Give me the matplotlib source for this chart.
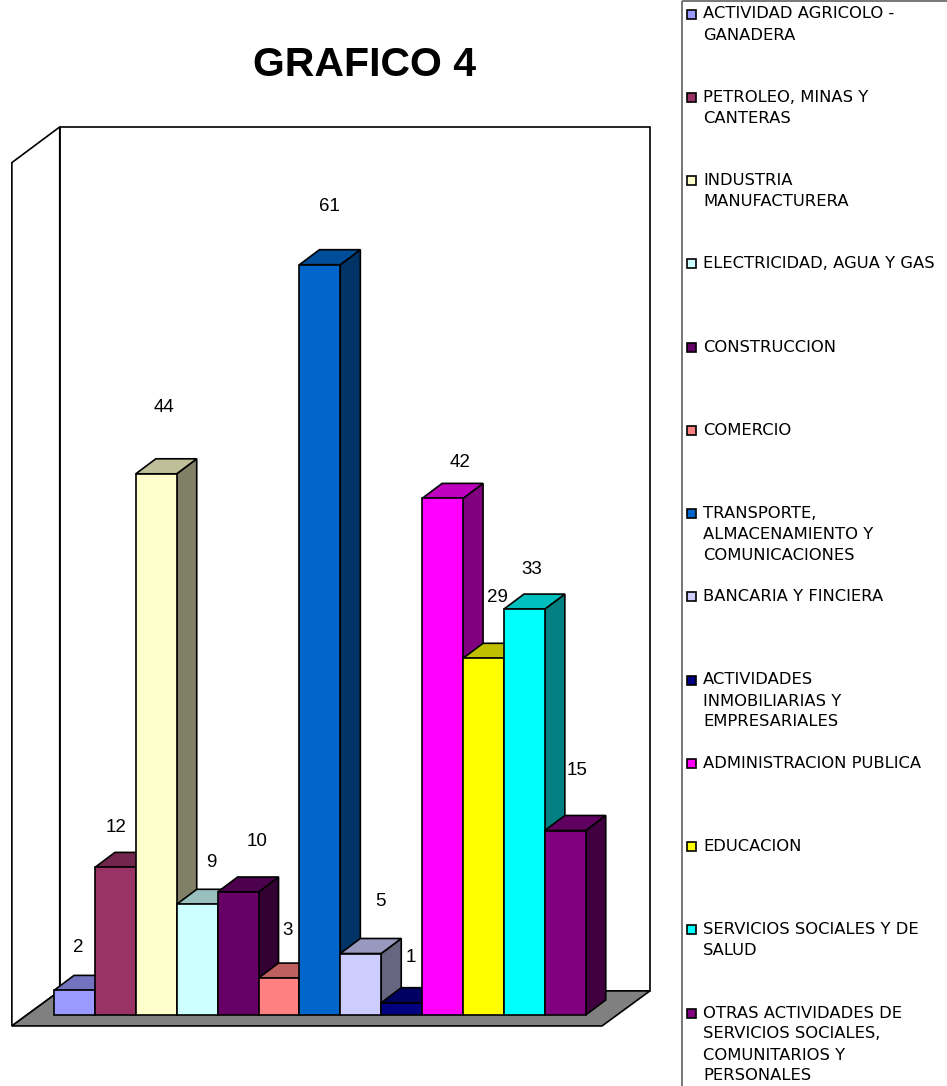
import numpy as np
import matplotlib.pyplot as plt
from matplotlib.patches import Polygon, Rectangle
from matplotlib.colors import to_rgb

sectores = [
    "ACTIVIDAD AGRICOLO -\nGANADERA",
    "PETROLEO, MINAS Y\nCANTERAS",
    "INDUSTRIA\nMANUFACTURERA",
    "ELECTRICIDAD, AGUA Y GAS",
    "CONSTRUCCION",
    "COMERCIO",
    "TRANSPORTE,\nALMACENAMIENTO Y\nCOMUNICACIONES",
    "BANCARIA Y FINCIERA",
    "ACTIVIDADES\nINMOBILIARIAS Y\nEMPRESARIALES",
    "ADMINISTRACION PUBLICA",
    "EDUCACION",
    "SERVICIOS SOCIALES Y DE\nSALUD",
    "OTRAS ACTIVIDADES DE\nSERVICIOS SOCIALES,\nCOMUNITARIOS Y\nPERSONALES",
]
valores = [2, 12, 44, 9, 10, 3, 61, 5, 1, 42, 29, 33, 15]
colores = ['#9999FF', '#993366', '#FFFFCC', '#CCFFFF', '#660066', '#FF8080',
           '#0066CC', '#CCCCFF', '#000080', '#FF00FF', '#FFFF00', '#00FFFF',
           '#800080']

# nudges for the value labels (pixels, relative to the top of each bar)
label_dx = [4, 1, 8, 14, 19, 9, 10, 20, 9, 18, 14, 7, 12]
label_dy = [43, 40, 66, 42, 50, 48, 58, 52, 45, 36, 61, 40, 60]

W, H = 947, 1086
px_x, px_y = 40.9, 12.3      # pixels per bar slot / per unit of value
x_org, y_org = 54, 1015      # pixel position of the first bar's base

fig = plt.figure(figsize=(W / 100, H / 100), dpi=100)
ax = fig.add_axes([0, 0, 1, 1])
ax.set_xlim(-x_org / px_x, (W - x_org) / px_x)
ax.set_ylim((y_org - H) / px_y, y_org / px_y)
ax.axis('off')

# walls and floor of the 3d box
fx0, fx1, fy = -1.03, 13.40, -0.89     # front edge of the floor
ddx, ddy = 1.17, 2.85                  # depth of the box
top_back, top_front = 72.2, 69.3
ax.add_patch(Polygon([(fx0 + ddx, fy + ddy), (fx1 + ddx, fy + ddy),
                      (fx1 + ddx, top_back), (fx0 + ddx, top_back)],
                     fc='white', ec='black', lw=1.2))
ax.add_patch(Polygon([(fx0, fy), (fx0 + ddx, fy + ddy),
                      (fx0 + ddx, top_back), (fx0, top_front)],
                     fc='white', ec='black', lw=1.2))
ax.add_patch(Polygon([(fx0, fy), (fx1, fy), (fx1 + ddx, fy + ddy),
                      (fx0 + ddx, fy + ddy)],
                     fc='#808080', ec='black', lw=1.2))

# 3d columns: side, top, then front face
dx, dy = 0.49, 1.22
for i, (v, c) in enumerate(zip(valores, colores)):
    rgb = np.array(to_rgb(c))
    x0, x1 = i, i + 1
    side = [(x1, 0), (x1 + dx, dy), (x1 + dx, v + dy), (x1, v)]
    top = [(x0, v), (x0 + dx, v + dy), (x1 + dx, v + dy), (x1, v)]
    front = [(x0, 0), (x1, 0), (x1, v), (x0, v)]
    ax.add_patch(Polygon(side, fc=rgb * 0.5, ec='black', lw=1.2))
    ax.add_patch(Polygon(top, fc=rgb * 0.75, ec='black', lw=1.2))
    ax.add_patch(Polygon(front, fc=rgb, ec='black', lw=1.2))
    ax.annotate(str(v), (i + 0.5, v), xytext=(label_dx[i], label_dy[i]),
                textcoords='offset pixels', ha='center', va='center',
                fontsize=13.5, family='Liberation Sans')

fig.text(365 / W, 1 - 65 / H, 'GRAFICO 4', ha='center', va='center',
         fontsize=29.5, fontweight='bold', family='Liberation Sans')

# legend panel on the right
lax = fig.add_axes([681 / W, 0, (W - 681) / W, 1])
lax.set_xlim(0, W - 681)
lax.set_ylim(H, 0)
lax.axis('off')
lax.add_patch(Rectangle((0.5, 1), 400, 1200, fill=False, ec='#606060', lw=1.2))
for i, (nombre, c) in enumerate(zip(sectores, colores)):
    y = 14 + 83.25 * i
    lax.add_patch(Rectangle((6, y - 4.5), 9, 9, fc=c, ec='black', lw=1.2))
    for k, linea in enumerate(nombre.split('\n')):
        lax.text(22, y + 21 * k, linea, ha='left', va='center',
                 fontsize=11.8, family='DejaVu Sans')

fig.savefig('out.png', dpi=100)
